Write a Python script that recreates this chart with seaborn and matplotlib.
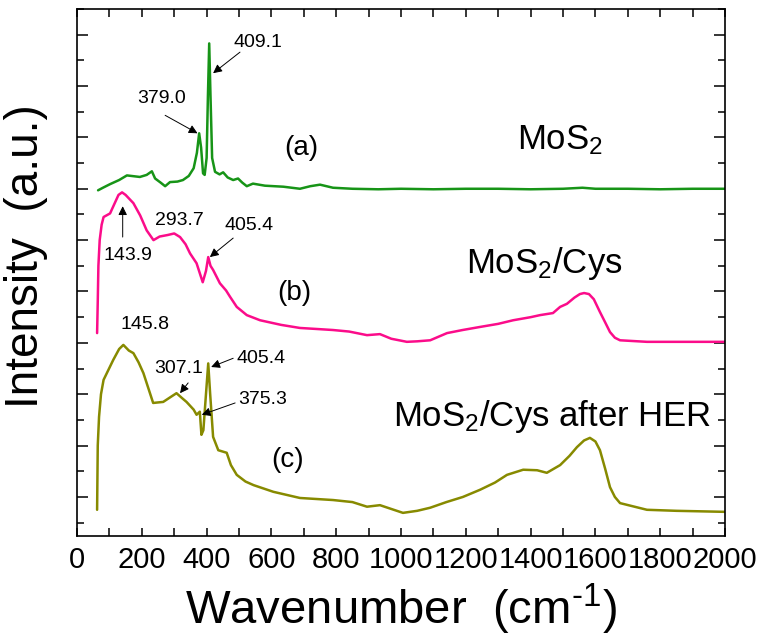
import matplotlib
matplotlib.use("Agg")
import matplotlib.pyplot as plt
import seaborn as sns
import pandas as pd
import numpy as np
from matplotlib.ticker import MultipleLocator

# ---- data (offset spectra, arbitrary units) ----
wn_a = [65, 80, 102, 130, 154, 194, 215, 231, 241, 258, 272, 287, 310, 327, 345, 360, 370,
        377, 383, 389, 394, 400, 404, 408, 412, 417, 426, 440, 451, 465, 482, 497, 510, 524,
        543, 580, 637, 688, 720, 750, 790, 850, 930, 1000, 1100, 1200, 1300, 1400, 1500,
        1560, 1600, 1700, 1800, 1900, 2000]
int_a = [6.97, 7.02, 7.09, 7.17, 7.26, 7.23, 7.27, 7.34, 7.2, 7.12, 7.05, 7.13, 7.14, 7.17, 7.25, 7.4, 7.7,
         8.08, 7.8, 7.3, 7.27, 7.6, 8.8, 9.83, 8.8, 7.6, 7.33, 7.28, 7.32, 7.22, 7.17, 7.2, 7.12, 7.05,
         7.1, 7.06, 7.04, 7.0, 7.05, 7.08, 7.02, 7.0, 6.99, 7.0, 6.99, 7.0, 7.0, 6.99, 7.0,
         7.02, 7.0, 7.0, 6.99, 7.0, 7.0]

wn_b = [62, 64, 66, 70, 76, 82, 102, 115, 128, 139, 150, 174, 195, 215, 236, 255, 280, 300, 318,
        335, 349, 369, 388, 398, 405, 412, 420, 441, 460, 472, 493, 524, 565, 630, 688, 740, 790, 840, 895,
        935, 970, 1018, 1050, 1090, 1142, 1190, 1244, 1300, 1346, 1400, 1429, 1469, 1491, 1512,
        1535, 1552, 1565, 1580, 1595, 1614, 1630, 1645, 1660, 1676, 1759, 1850, 2000]
int_b = [4.19, 4.8, 5.5, 6.0, 6.3, 6.45, 6.52, 6.7, 6.88, 6.93, 6.88, 6.72, 6.48, 6.19, 6.0, 6.07, 6.1, 6.13, 6.06,
         5.92, 5.74, 5.55, 5.18, 5.4, 5.67, 5.5, 5.42, 5.16, 5.02, 4.9, 4.7, 4.54, 4.44, 4.35, 4.29, 4.27, 4.25, 4.22, 4.15,
         4.17, 4.08, 4.02, 4.03, 4.05, 4.19, 4.25, 4.31, 4.37, 4.44, 4.5, 4.54, 4.58, 4.7, 4.76,
         4.88, 4.95, 4.97, 4.95, 4.85, 4.6, 4.4, 4.21, 4.1, 4.05, 4.02, 4.02, 4.02]

wn_c = [62, 64, 68, 74, 82, 92, 112, 130, 143, 160, 174, 190, 205, 220, 235, 250, 266, 290, 307, 325,
        338, 360, 369, 379, 384, 390, 398, 405, 411, 420, 436, 462, 475, 493, 520, 545, 606, 688, 790,
        850, 895, 935, 1006, 1050, 1090, 1140, 1191, 1244, 1290, 1327, 1377, 1420, 1450, 1491, 1520,
        1543, 1565, 1583, 1600, 1614, 1630, 1645, 1660, 1676, 1759, 1850, 2000]
int_c = [0.75, 2.0, 2.56, 3.0, 3.28, 3.41, 3.67, 3.88, 3.96, 3.85, 3.8, 3.62, 3.41, 3.12, 2.83, 2.84, 2.85, 2.95, 3.02,
         2.92, 2.85, 2.7, 2.6, 2.66, 2.21, 2.3, 3.0, 3.6, 3.0, 2.17, 1.91, 1.86, 1.62, 1.43, 1.3, 1.23, 1.1, 0.98, 0.94,
         0.9, 0.81, 0.84, 0.69, 0.73, 0.79, 0.9, 1.0, 1.14, 1.28, 1.43, 1.53, 1.52, 1.47, 1.62, 1.8,
         1.97, 2.1, 2.15, 2.08, 1.91, 1.55, 1.19, 1.0, 0.88, 0.75, 0.73, 0.71]

series = [(wn_a, int_a, "#179417"), (wn_b, int_b, "#fb0c8a"), (wn_c, int_c, "#878a00")]

# peak labels: (text, text position, arrow tip or None)
peak_labels = [
    ("409.1", (558, 9.85), (420, 9.25)),
    ("379.0", (262, 8.76), (372, 8.08)),
    ("143.9", (157, 5.71), (141, 6.66)),
    ("293.7", (317, 6.39), None),
    ("405.4", (530, 6.29), (410, 5.67)),
    ("145.8", (209, 4.35), None),
    ("307.1", (313, 3.51), (318, 3.02)),
    ("405.4", (567, 3.7), (414, 3.53)),
    ("375.3", (574, 2.89), (385, 2.6)),
]
arrow_tails = [(503, 9.66), (272, 8.43), (141, 6.06), None, (482, 6.04), None,
               (343, 3.22), (482, 3.7), (488, 2.83)]

sample_tags = [("(a)", 691, 7.79), ("(b)", 672, 4.97), ("(c)", 651, 1.72)]
sample_names = [("MoS$_2$", 1491, 7.95), ("MoS$_2$/Cys", 1441, 5.55),
                ("MoS$_2$/Cys after HER", 1466, 2.56)]

sns.set_style("ticks")
plt.rcParams['font.family'] = ['Liberation Sans', 'DejaVu Sans']
plt.rcParams['mathtext.fontset'] = 'custom'
plt.rcParams['mathtext.rm'] = 'Liberation Sans'
plt.rcParams['mathtext.it'] = 'Liberation Sans:italic'
plt.rcParams['mathtext.bf'] = 'Liberation Sans:bold'
for k in ['text.color', 'axes.labelcolor', 'xtick.color', 'ytick.color', 'axes.edgecolor']:
    plt.rcParams[k] = 'black'

fig = plt.figure(figsize=(7.58, 6.38), dpi=100)
ax = fig.add_axes([0.1016, 0.1599, 0.8549, 0.826])

for wn, vals, col in series:
    sns.lineplot(x=wn, y=vals, ax=ax, color=col, lw=1.8, sort=False, estimator=None)

for (txt, pos, tip), tail in zip(peak_labels, arrow_tails):
    ax.text(pos[0], pos[1], txt, fontsize=14, ha='center', va='center')
    if tip is not None:
        ax.annotate("", xy=tip, xytext=tail,
                    arrowprops=dict(arrowstyle='-|>', color='black', lw=0.7, mutation_scale=13,
                                    shrinkA=0, shrinkB=0))

for txt, x, y in sample_tags:
    ax.text(x, y, txt, fontsize=20, ha='center', va='center')
for txt, x, y in sample_names:
    ax.text(x, y, txt, fontsize=25, ha='center', va='center')

ax.set_xlim(0, 2000)
ax.set_ylim(0.24, 10.5)
ax.xaxis.set_major_locator(MultipleLocator(200))
ax.xaxis.set_minor_locator(MultipleLocator(100))
ax.yaxis.set_major_locator(MultipleLocator(1))
ax.yaxis.set_minor_locator(MultipleLocator(0.5))
ax.tick_params(which='both', direction='in', top=True, right=True, width=1.1, labelsize=21,
               labelleft=False, pad=7)
ax.tick_params(axis='x', which='both', length=6)
ax.tick_params(axis='y', which='major', length=8)
ax.tick_params(axis='y', which='minor', length=5)
for sp in ax.spines.values():
    sp.set_linewidth(1.2)

ax.set_xlabel("Wavenumber  (cm$^{\\text{-1}}$)", fontsize=34, labelpad=6)
ax.set_ylabel("Intensity  (a.u.)", fontsize=33)
ax.yaxis.set_label_coords(-0.045, 0.531)

fig.savefig("out.png", dpi=100)
